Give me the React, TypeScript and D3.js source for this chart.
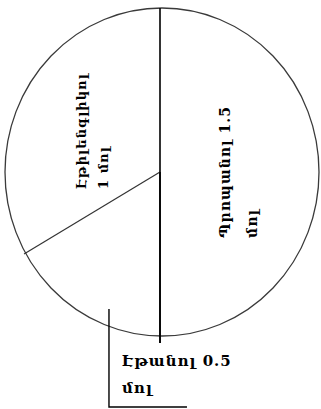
import React, { useEffect, useRef } from "react";
import * as d3 from "d3";

// slices, clockwise from 12 o'clock
const names = ["Պրոպանոլ", "Էթանոլ", "Էթիլենգլիկոլ"];
const amounts = [1.5, 0.5, 1];
const unit = "մոլ";

export default function App() {
  const ref = useRef<SVGSVGElement>(null);
  const width = 321;
  const height = 409;

  useEffect(() => {
    const svg = d3.select(ref.current).attr("width", width).attr("height", height);
    svg.selectAll("*").remove();

    const cx = 160;
    const cy = 172;
    const rx = 157;
    const ry = 164;
    const font = "'DejaVu Serif', serif";

    const pie = d3.pie<number>().sort(null).value((d) => d);
    const arcs = pie(amounts);
    const arc = d3.arc<d3.PieArcDatum<number>>().innerRadius(0).outerRadius(1);

    // point on the (slightly oval) outline
    const at = (a: number, r: number): [number, number] => [
      cx + r * rx * Math.sin(a),
      cy - r * ry * Math.cos(a),
    ];

    // outline
    svg
      .append("ellipse")
      .attr("cx", cx + 2)
      .attr("cy", cy)
      .attr("rx", rx)
      .attr("ry", ry)
      .attr("fill", "#fff")
      .attr("stroke", "#3a3a3a")
      .attr("stroke-width", 1.3);

    // slice boundaries (the one at 6 o'clock runs a little past the rim)
    const edges = arcs.map((d) => d.startAngle).concat(arcs[0].endAngle);
    edges.slice(1).forEach((a, k) => {
      const vertical = Math.abs(Math.sin(a)) < 1e-6;
      const over = vertical && Math.cos(a) < 0 ? 1 + 7 / ry : 1;
      const [x2, y2] = at(a, over);
      svg
        .append("line")
        .attr("x1", cx)
        .attr("y1", cy)
        .attr("x2", x2)
        .attr("y2", y2)
        .attr("stroke", vertical ? "#000" : "#333")
        .attr("stroke-width", vertical ? 1.6 : 1.2);
    });
    const [tx, ty] = at(edges[0], 1);
    svg
      .append("line")
      .attr("x1", cx)
      .attr("y1", cy)
      .attr("x2", tx)
      .attr("y2", ty)
      .attr("stroke", "#000")
      .attr("stroke-width", 1.6);

    // rotated labels inside the two big slices
    const inside = [
      { i: 0, size: 14, gap: 27, lines: [`${names[0]} ${amounts[0]}`, unit] },
      { i: 2, size: 13, gap: 22, lines: [names[2], `${amounts[2]} ${unit}`] },
    ];
    inside.forEach(({ i, size, gap, lines }) => {
      const [ux, uy] = arc.centroid(arcs[i]);
      const px = cx + ux * rx;
      const py = cy + uy * ry;
      const g = svg.append("g").attr("transform", `translate(${px},${py}) rotate(-90)`);
      const t = g
        .append("text")
        .attr("font-family", font)
        .attr("font-weight", "bold")
        .attr("font-size", size)
        .attr("letter-spacing", 1)
        .attr("fill", "#000");
      t.selectAll("tspan").data(lines).join("tspan").text((d) => d);
      const len = d3.max(
        t.selectAll<SVGTSpanElement, string>("tspan").nodes(),
        (n) => n.getComputedTextLength()
      ) as number;
      const y1 = -gap / 2 + size * 0.35;
      t.selectAll("tspan")
        .attr("x", -len / 2)
        .attr("y", (_, k) => y1 + k * gap);
    });

    // small slice: label below with a leader
    const s = arcs[1];
    const mid = (s.startAngle + s.endAngle) / 2;
    const [lx] = at(mid, 0.65);
    const ex = (lx - cx) / rx;
    const edgeY = cy + ry * Math.sqrt(1 - ex * ex);
    const baseY = cy + ry;

    svg
      .append("path")
      .attr("d", `M${lx},${edgeY - 18}V${height - 2}H${lx + 78}`)
      .attr("fill", "none")
      .attr("stroke", "#000")
      .attr("stroke-width", 1.4);

    svg
      .append("text")
      .attr("font-family", font)
      .attr("font-weight", "bold")
      .attr("font-size", 15)
      .attr("letter-spacing", 1)
      .attr("fill", "#000")
      .selectAll("tspan")
      .data([`${names[1]} ${amounts[1]}`, unit])
      .join("tspan")
      .attr("x", lx + 13)
      .attr("y", (_, k) => baseY + 30 + k * 27)
      .text((d) => d);
  }, []);

  return <svg ref={ref} style={{ position: "absolute", left: 0, top: 0 }} />;
}
